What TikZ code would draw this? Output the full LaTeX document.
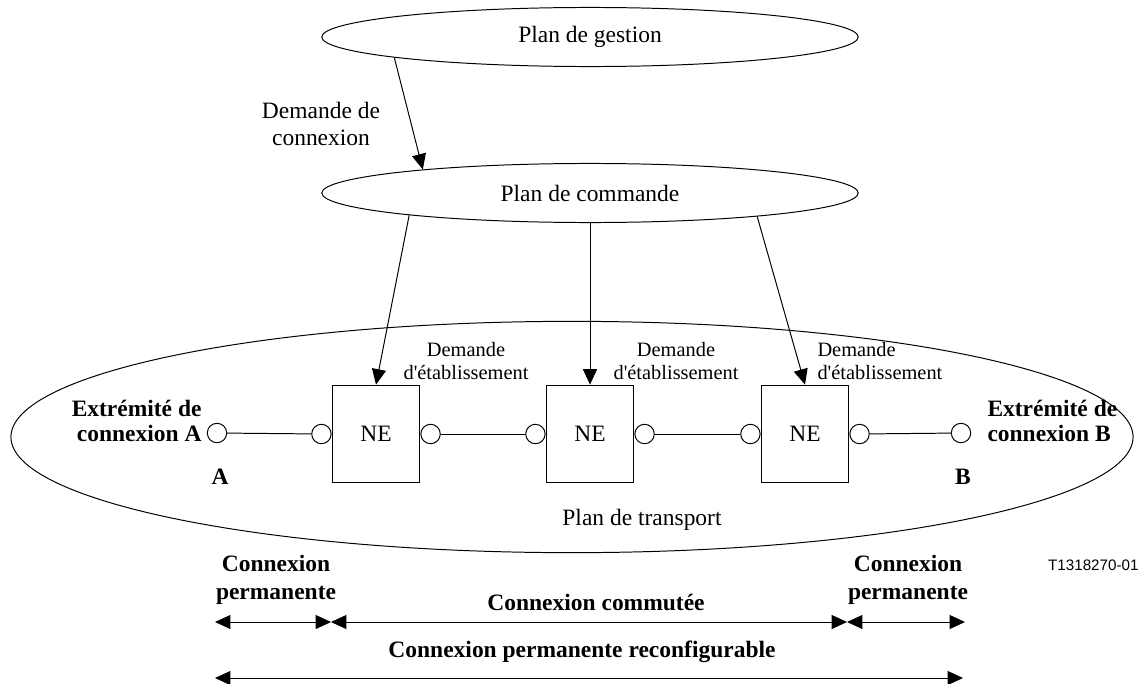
\documentclass[tikz,border=0pt]{standalone}
\usepackage{fontspec}
\setmainfont{Liberation Serif}
\newfontfamily\figsans{Liberation Sans}
\usetikzlibrary{shapes.geometric, positioning, arrows.meta}

\begin{document}
\begin{tikzpicture}[x=0.025cm, y=-0.025cm, line width=0.7pt,
    >={Triangle[length=11pt, width=10pt]},
    plane/.style={draw, ellipse, inner sep=0pt, minimum width=381.5pt, minimum height=42pt, font=\fontsize{16.7}{19.8}\selectfont},
    nebox/.style={draw, minimum width=62.4pt, minimum height=69.5pt, font=\fontsize{16.7}{19.8}\selectfont},
    port/.style={draw, circle, fill=white, minimum size=13.8pt, inner sep=0pt},
    txt/.style={inner sep=0pt, align=center, font=\fontsize{16.7}{19.8}\selectfont},
    small/.style={inner sep=0pt, align=center, font=\fontsize{14.5}{17}\selectfont},
    bold/.style={inner sep=0pt, align=center, font=\fontsize{16.7}{19.8}\selectfont\bfseries}]

	\useasboundingbox (0,0) rectangle (1139,684);

		% planes
		\node[plane] (gestion) at (590,37) {Plan de gestion};
		\node[plane] (commande) at (590,193) {Plan de commande};
		\node[draw, ellipse, minimum width=798pt, minimum height=164.5pt] (transport) at (572,437) {};
		\node[txt] (tlabel) at (642,520) {Plan de transport};

		% network elements
		\node[nebox] (ne1) at (376,434) {NE};
		\node[nebox] (ne2) at (590,434) {NE};
		\node[nebox] (ne3) at (805,434) {NE};

		\node[port, anchor=east] (p1l) at (ne1.west) {};
		\node[port, anchor=west] (p1r) at (ne1.east) {};
		\node[port, anchor=east] (p2l) at (ne2.west) {};
		\node[port, anchor=west] (p2r) at (ne2.east) {};
		\node[port, anchor=east] (p3l) at (ne3.west) {};
		\node[port, anchor=west] (p3r) at (ne3.east) {};
		\node[port] (pA) at (217,433) {};
		\node[port] (pB) at (961,433) {};

		% labels
		\node[txt] (dconn) at (321,124) {Demande de\\connexion};
		\node[small] (dem1) at (466,361) {Demande\\d\textquotesingle établissement};
		\node[small] (dem2) at (676,361) {Demande\\d\textquotesingle établissement};
		\node[small, align=left, anchor=west] (dem3) at (817,361) {Demande\\d\textquotesingle établissement};
		\node[bold, align=right, anchor=east, font=\fontsize{16.7}{17.7}\selectfont\bfseries] (extA) at (202,421) {Extrémité de\\connexion A};
		\node[bold, align=left, anchor=west, font=\fontsize{16.7}{17.7}\selectfont\bfseries] (extB) at (987,421) {Extrémité de\\connexion B};
		\node[bold] (lA) at (220,477) {A};
		\node[bold] (lB) at (963,477) {B};

		\node[bold] (permL) at (276,580) {Connexion\\permanente};
		\node[bold] (permR) at (908,580) {Connexion\\permanente};
		\node[bold] (comm) at (596,602) {Connexion commutée};
		\node[bold] (reconf) at (582,652) {Connexion permanente reconfigurable};
		\node[inner sep=0pt, anchor=east, font=\figsans\fontsize{10.8}{13}\selectfont] (ref) at (1139,565) {T1318270-01};

		% span ends
		\coordinate (s1) at (215,622);
		\coordinate (s2) at (331,622);
		\coordinate (s3) at (847,622);
		\coordinate (s4) at (965,622);
		\coordinate (r1) at (215,678);
		\coordinate (r2) at (963,678);

			\path[->]
				(gestion.186) edge (commande.172.5)
				(commande.187.5) edge (ne1.north)
				(commande.south) edge (ne2.north)
				(commande.352.5) edge (ne3.north);

			\path
				(pA) edge (p1l)
				(p1r) edge (p2l)
				(p2r) edge (p3l)
				(p3r) edge (pB);

			\path[<->]
				(s1) edge (s2)
				(s2) edge (s3)
				(s3) edge (s4)
				(r1) edge (r2);

\end{tikzpicture}
\end{document}
